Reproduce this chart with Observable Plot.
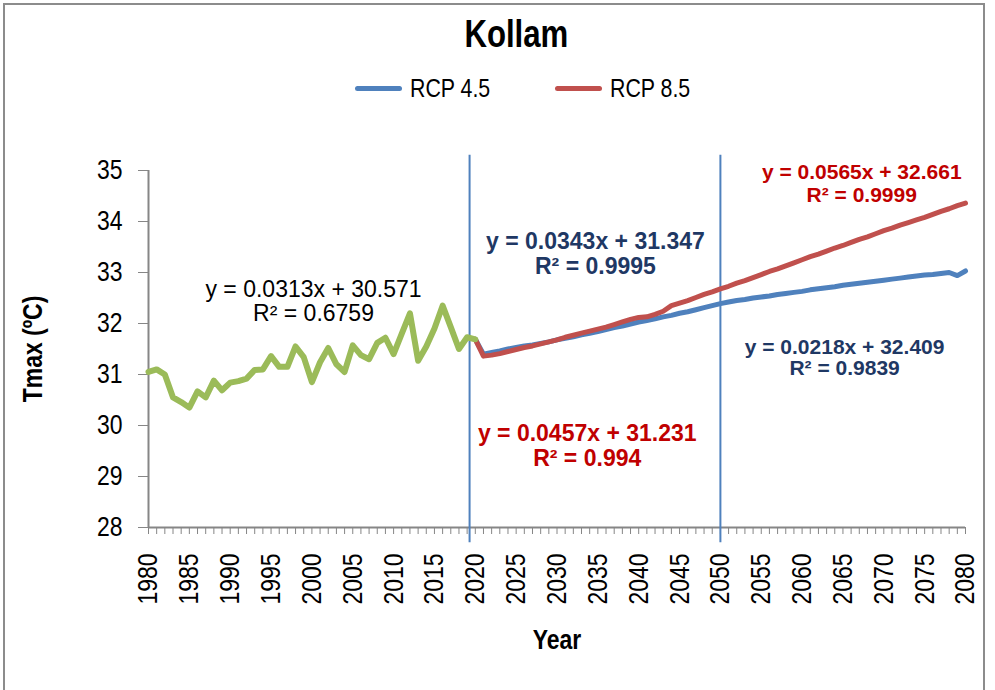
<!DOCTYPE html>
<html>
<head>
<meta charset="utf-8">
<script src="https://cdn.jsdelivr.net/npm/d3@7"></script>
<script src="https://cdn.jsdelivr.net/npm/@observablehq/plot@0.6"></script>
<style>
  html, body { margin: 0; padding: 0; background: #fff; }
  #wrap { position: relative; width: 995px; height: 690px; overflow: hidden; }
  #frame { position: absolute; left: 3px; top: 3px; width: 982px; height: 700px; border: 2px solid #8c8c8c; box-sizing: border-box; }
  #header { position: relative; height: 120px; font-family: "Liberation Sans", Arial, sans-serif; }
  #title { position: absolute; left: 38px; width: 957px; top: 12px; text-align: center; font-weight: bold; font-size: 38px; line-height: 44px; }
  #title span { display: inline-block; transform: scaleX(0.82); }
  .item { position: absolute; top: 72px; height: 32px; display: flex; align-items: center; font-size: 26px; }
  .item span { display: inline-block; transform: scaleX(0.82); transform-origin: left center; }
  .sw { width: 47px; height: 5px; border-radius: 3px; margin-right: 8px; }
  #chart { position: relative; }
</style>
</head>
<body>
<div id="wrap">
  <div id="frame"></div>
  <div id="header">
    <div id="title"><span>Kollam</span></div>
  </div>
  <div id="chart"></div>
</div>
<script>
// ---- data ----
const observedYears = d3.range(1980, 2021);
const observed = [31.05, 31.10, 31.00, 30.55, 30.46, 30.35, 30.67, 30.55, 30.88, 30.69,
  30.84, 30.87, 30.92, 31.09, 31.10, 31.36, 31.15, 31.15, 31.55, 31.34,
  30.85, 31.24, 31.52, 31.20, 31.05, 31.57, 31.38, 31.30, 31.62, 31.72,
  31.40, 31.80, 32.20, 31.27, 31.55, 31.90, 32.35, 31.93, 31.50, 31.73,
  31.69];

const futureYears = d3.range(2020, 2081);
const rcp45 = [31.69,
  31.40, 31.43, 31.46, 31.50, 31.53, 31.56, 31.58, 31.61, 31.64, 31.68,
  31.71, 31.74, 31.78, 31.81, 31.84, 31.88, 31.92, 31.95, 31.99, 32.03,
  32.06, 32.09, 32.13, 32.16, 32.20, 32.23, 32.27, 32.31, 32.35, 32.39,
  32.42, 32.45, 32.47, 32.50, 32.52, 32.54, 32.57, 32.59, 32.61, 32.63,
  32.66, 32.68, 32.70, 32.72, 32.75, 32.77, 32.79, 32.81, 32.83, 32.85,
  32.87, 32.89, 32.91, 32.93, 32.95, 32.96, 32.98, 33.00, 32.94, 33.03];
const rcp85 = [31.69,
  31.36, 31.38, 31.41, 31.45, 31.49, 31.53, 31.56, 31.60, 31.64, 31.68,
  31.73, 31.77, 31.81, 31.85, 31.89, 31.93, 31.98, 32.03, 32.08, 32.12,
  32.13, 32.18, 32.24, 32.35, 32.40, 32.45, 32.51, 32.57, 32.62, 32.68,
  32.73, 32.79, 32.84, 32.90, 32.96, 33.02, 33.07, 33.13, 33.19, 33.25,
  33.31, 33.36, 33.42, 33.48, 33.53, 33.59, 33.65, 33.70, 33.76, 33.82,
  33.87, 33.93, 33.98, 34.03, 34.08, 34.14, 34.20, 34.25, 34.31, 34.36];

const yTicks = [28, 29, 30, 31, 32, 33, 34, 35];
const xLabelYears = d3.range(1980, 2081, 5);
const allYears = d3.range(1980, 2081);
const dividerYears = [2019.3, 2050];

const seriesNames = ["RCP 4.5", "RCP 8.5"];
const seriesColors = ["#4F81BD", "#C0504D"];
const observedColor = "#9BBB59";

// trendline equation labels
const eqText = [
  "y = 0.0313x + 30.571", "R² = 0.6759",
  "y = 0.0343x + 31.347", "R² = 0.9995",
  "y = 0.0565x + 32.661", "R² = 0.9999",
  "y = 0.0218x + 32.409", "R² = 0.9839",
  "y = 0.0457x + 31.231", "R² = 0.994"
];
const eqX = [2000.2, 2000.2, 2034.7, 2034.7, 2067.3, 2067.3, 2065.2, 2065.2, 2033.7, 2033.7];
const eqY = [32.67, 32.20, 33.61, 33.12, 34.96, 34.52, 31.53, 31.12, 29.84, 29.35];
const eqColor = ["#000000", "#000000", "#1F3864", "#1F3864", "#C00000", "#C00000", "#1F3864", "#1F3864", "#C00000", "#C00000"];
const eqSize = [23, 23, 23, 23, 21, 21, 21, 21, 23, 23];
const eqWeight = ["normal", "normal", "bold", "bold", "bold", "bold", "bold", "bold", "bold", "bold"];

// ---- build tables ----
const obsData = observedYears.map((yr, i) => ({year: yr, value: observed[i]}));
const r45Data = futureYears.map((yr, i) => ({year: yr, value: rcp45[i]}));
const r85Data = futureYears.map((yr, i) => ({year: yr, value: rcp85[i]}));
const eqData = eqText.map((t, i) => ({text: t, x: eqX[i], y: eqY[i], color: eqColor[i], size: eqSize[i], weight: eqWeight[i]}));

// legend
const header = document.getElementById("header");
const legendLeft = [355, 555];
seriesNames.forEach((n, i) => {
  const it = document.createElement("div");
  it.className = "item";
  it.style.left = legendLeft[i] + "px";
  it.innerHTML = `<div class="sw" style="background:${seriesColors[i]}"></div><span>${n}</span>`;
  header.appendChild(it);
});

const arial = '"Liberation Sans", Arial, sans-serif';
const gray = "#868686";

const plot = Plot.plot({
  width: 995,
  height: 570,
  marginLeft: 148,
  marginRight: 30,
  marginTop: 50,
  marginBottom: 163,
  style: {fontFamily: arial, background: "transparent", overflow: "visible"},
  x: {domain: [1980, 2080], axis: null},
  y: {domain: [28, 35], axis: null},
  marks: [
    // axes lines
    Plot.ruleX([1980], {stroke: gray, strokeWidth: 2}),
    Plot.ruleY([28], {stroke: gray, strokeWidth: 2}),
    Plot.axisY({ticks: yTicks, tickSize: 10, tickPadding: 16, stroke: gray, fill: "#000", fontSize: 28, tickFormat: d => String(d), label: null}),
    Plot.axisX({ticks: allYears, tickSize: 7, tickFormat: () => "", stroke: gray, label: null}),
    Plot.axisX({ticks: xLabelYears, tickSize: 0, tickPadding: 26, tickRotate: -90, fontSize: 28, fill: "#000", tickFormat: d => String(d), label: null}),
    // dividers
    Plot.ruleX(dividerYears, {y1: 27.7, y2: 35.3, stroke: "#4F81BD", strokeWidth: 2}),
    // series
    Plot.line(r45Data, {x: "year", y: "value", stroke: seriesColors[0], strokeWidth: 5, strokeLinejoin: "round", strokeLinecap: "round"}),
    Plot.line(r85Data, {x: "year", y: "value", stroke: seriesColors[1], strokeWidth: 5, strokeLinejoin: "round", strokeLinecap: "round"}),
    Plot.line(obsData, {x: "year", y: "value", stroke: observedColor, strokeWidth: 6, strokeLinejoin: "round", strokeLinecap: "round"}),
    // equations
    ...eqData.map(d => Plot.text([d], {x: "x", y: "y", text: "text", fill: d.color, fontSize: d.size, fontWeight: d.weight, className: "equation"})),
    // axis titles
    Plot.text(["Tmax (ºC)"], {frameAnchor: "left", dx: -115, rotate: -90, textAnchor: "middle", lineAnchor: "middle", fontSize: 28, fontWeight: "bold", fill: "#000"}),
    Plot.text(["Year"], {frameAnchor: "bottom", dy: 113, textAnchor: "middle", lineAnchor: "middle", fontSize: 28, fontWeight: "bold", fill: "#000"})
  ]
});
document.getElementById("chart").appendChild(plot);

// condense axis text to an Arial-Narrow-like width (equations keep normal width)
plot.querySelectorAll("text").forEach(t => {
  if (t.closest(".equation")) return;
  const len = t.getComputedTextLength();
  if (len > 0) {
    t.setAttribute("textLength", (len * 0.82).toFixed(2));
    t.setAttribute("lengthAdjust", "spacingAndGlyphs");
  }
});
</script>
</body>
</html>
